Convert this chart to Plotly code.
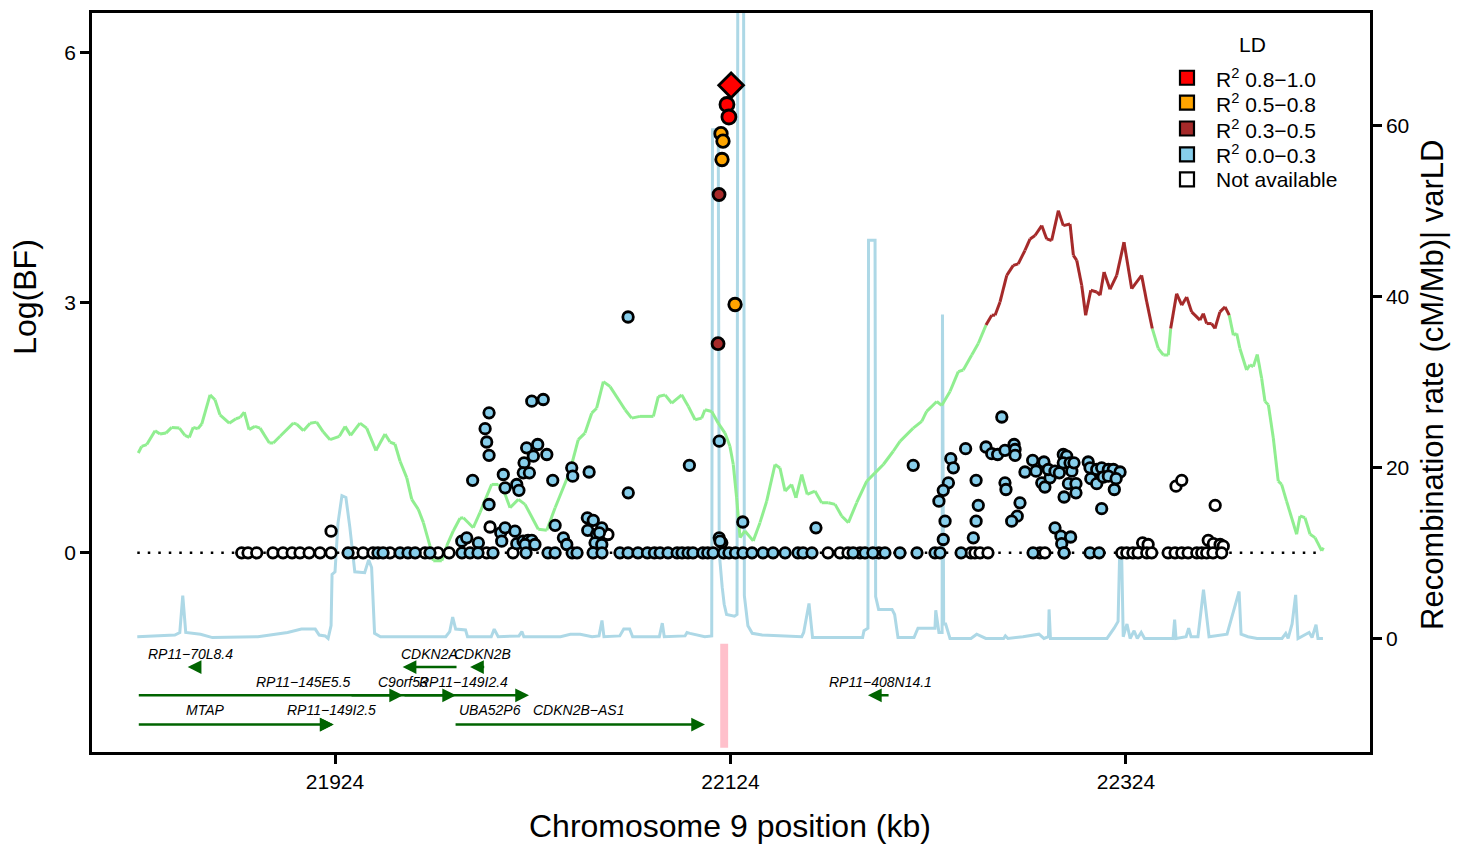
import plotly.graph_objects as go

# ---------------- data ----------------
region_kb = [21824.0, 22424.0]

# SNPs: position (kb) and Log(BF), by LD class with the lead SNP
lead_kb = [22124.3]
lead_bf = [5.61]
red_kb = [22122.2, 22123.2]
red_bf = [5.38, 5.23]
orange_kb = [22119.2, 22120.2, 22119.7, 22126.3]
orange_bf = [5.03, 4.94, 4.72, 2.98]
brown_kb = [22118.2, 22117.7]
brown_bf = [4.30, 2.51]

blue_kb = [21993.6, 21988.1, 21990.6, 22001.9, 21999.9, 22000.7, 22001.9, 22001.9, 21996.5, 22007.8,
           22008.3, 22010.0, 22015.0, 22015.9, 22019.1, 22021.6, 22023.5, 22020.1, 22025.1, 22023.5,
           22029.3, 22020.9, 22026.5, 22024.3, 22031.1, 22019.6, 22019.2, 22022.3, 22009.1, 22010.0,
           22015.9, 22017.0, 22034.1, 22035.3, 22039.5, 22041.2, 22043.7, 22044.2, 22052.5, 22051.6,
           22054.6, 22051.8, 22058.9, 22056.3, 22057.7, 22055.5, 22058.9, 22072.3, 22072.2, 22103.2,
           22118.3, 22118.3, 22119.6, 22118.7, 22130.2, 22167.2, 22216.4, 22235.4, 22236.7, 22234.2,
           22231.6, 22229.4, 22232.5, 22231.6, 22242.9, 22248.2, 22249.3, 22248.2, 22246.8, 22261.2,
           22253.2, 22256.1, 22259.1, 22262.8, 22267.4, 22267.9, 22267.9, 22262.8, 22263.3, 22270.4,
           22269.0, 22266.2, 22272.9, 22276.8, 22278.5, 22282.5, 22281.4, 22283.0, 22285.6, 22284.7,
           22288.1, 22290.3, 22292.3, 22294.0, 22292.3, 22295.7, 22296.6, 22297.7, 22294.9, 22298.7,
           22292.7, 22298.7, 22304.9, 22305.8, 22309.2, 22311.7, 22315.1, 22317.6, 22321.0, 22306.2,
           22309.2, 22312.5, 22315.1, 22319.0, 22318.1, 22311.7, 22288.1, 22291.1, 22296.0, 22291.5,
           22292.7,
           21930.6, 21945.7, 21948.3, 21956.9, 21960.9, 21964.5, 21972.0, 21988.2, 21992.3, 21996.3,
           22003.9, 22020.6, 22031.7, 22035.3, 22043.9, 22046.4, 22054.5, 22059.0, 22068.1, 22072.2,
           22077.2, 22082.0, 22085.5, 22088.4, 22092.4, 22097.0, 22099.5, 22102.5, 22105.0, 22110.0,
           22112.5, 22115.2, 22120.5, 22123.2, 22126.5, 22130.3, 22134.9, 22140.4, 22145.5, 22151.6,
           22158.1, 22160.7, 22165.2, 22186.0, 22192.0, 22196.0, 22202.1, 22209.7, 22218.3, 22227.4,
           22230.0, 22240.6, 22277.0, 22292.7, 22305.8, 22310.4]
blue_bf = [0.87, 0.14, 0.18, 1.68, 1.49, 1.33, 1.17, 0.58, 0.12, 0.24,
           0.14, 0.30, 0.26, 0.11, 0.14, 0.15, 0.15, 0.10, 0.10, 1.82,
           1.84, 1.26, 1.30, 1.16, 1.18, 1.08, 0.96, 0.96, 0.94, 0.78,
           0.82, 0.75, 0.87, 0.33, 0.18, 0.10, 1.02, 0.92, 0.97, 0.42,
           0.39, 0.27, 0.30, 0.22, 0.24, 0.12, 0.10, 0.72, 2.83, 1.05,
           1.34, 0.18, 0.12, 0.14, 0.37, 0.30, 1.05, 1.13, 1.02, 0.84,
           0.75, 0.62, 0.38, 0.16, 1.25, 0.87, 0.57, 0.38, 0.18, 1.63,
           1.27, 1.19, 1.18, 1.23, 1.30, 1.24, 1.17, 0.84, 0.76, 0.60,
           0.44, 0.38, 0.97, 1.11, 0.98, 1.09, 0.84, 0.79, 0.90, 1.00,
           0.98, 0.96, 1.18, 1.16, 1.08, 1.08, 0.98, 1.08, 0.83, 0.83,
           0.67, 0.72, 1.09, 1.02, 1.00, 1.02, 1.00, 1.00, 0.97, 0.89,
           0.83, 0.91, 0.92, 0.89, 0.76, 0.53, 0.30, 0.20, 0.19, 0.11,
           0.00,
           0.0, 0.0, 0.0, 0.0, 0.0, 0.0, 0.0, 0.0, 0.0, 0.0,
           0.0, 0.0, 0.0, 0.0, 0.0, 0.0, 0.0, 0.0, 0.0, 0.0,
           0.0, 0.0, 0.0, 0.0, 0.0, 0.0, 0.0, 0.0, 0.0, 0.0,
           0.0, 0.0, 0.0, 0.0, 0.0, 0.0, 0.0, 0.0, 0.0, 0.0,
           0.0, 0.0, 0.0, 0.0, 0.0, 0.0, 0.0, 0.0, 0.0, 0.0,
           0.0, 0.0, 0.0, 0.0, 0.0, 0.0]

na_kb = [21922.0, 22002.4, 22062.0, 22349.3, 22352.2, 22369.1, 22332.4, 22335.2, 22365.6, 22368.2,
         22371.6, 22373.2,
         21876.8, 21880.0, 21884.4, 21892.6, 21897.7, 21902.3, 21906.3, 21910.9, 21916.4, 21922.0,
         21933.6, 21938.2, 21943.2, 21951.8, 21969.5, 21976.1, 21981.7, 22000.7, 22014.0, 22173.3,
         22179.4, 22183.4, 22189.5, 22199.0, 22245.6, 22247.6, 22250.2, 22254.2, 22280.5, 22283.0,
         22321.8, 22324.4, 22327.5, 22330.1, 22334.5, 22337.0, 22345.3, 22348.8, 22352.2, 22355.4,
         22359.8, 22362.3, 22364.8, 22368.0, 22372.4]
na_bf = [0.26, 0.31, 0.22, 0.80, 0.87, 0.57, 0.12, 0.10, 0.15, 0.11,
         0.10, 0.08,
         0.0, 0.0, 0.0, 0.0, 0.0, 0.0, 0.0, 0.0, 0.0, 0.0,
         0.0, 0.0, 0.0, 0.0, 0.0, 0.0, 0.0, 0.0, 0.0, 0.0,
         0.0, 0.0, 0.0, 0.0, 0.0, 0.0, 0.0, 0.0, 0.0, 0.0,
         0.0, 0.0, 0.0, 0.0, 0.0, 0.0, 0.0, 0.0, 0.0, 0.0,
         0.0, 0.0, 0.0, 0.0, 0.0]

# Recombination rate (cM/Mb)
recomb_kb = [21824.0, 21843.0, 21845.5, 21847.0, 21848.5, 21852.0, 21856.0, 21862.0, 21885.0, 21900.0,
             21907.0, 21914.0, 21916.0, 21919.0, 21920.5, 21922.0, 21922.5, 21924.0, 21925.5, 21927.5,
             21929.5, 21931.5, 21934.0, 21939.0, 21941.0, 21942.5, 21944.0, 21947.0, 21980.0, 21982.0,
             21983.5, 21985.0, 21990.0, 21991.0, 22003.0, 22004.5, 22006.5, 22017.0, 22018.5, 22019.5,
             22038.0, 22043.0, 22048.0, 22054.0, 22057.5, 22059.0, 22060.0, 22068.0, 22070.0, 22073.0,
             22074.5, 22088.0, 22089.5, 22090.5, 22101.0, 22102.0, 22103.5, 22111.0, 22114.5, 22114.9,
             22117.8, 22118.3, 22118.9, 22119.8, 22120.8, 22122.0, 22126.0, 22127.3, 22127.7, 22130.6,
             22131.0, 22132.8, 22135.0, 22140.0, 22160.0, 22161.0, 22163.7, 22165.5, 22190.8, 22191.5,
             22193.5, 22193.8, 22197.1, 22197.4, 22198.9, 22205.7, 22207.0, 22208.7, 22216.8, 22218.8,
             22227.4, 22227.8, 22229.4, 22231.0, 22231.2, 22231.8, 22232.8, 22235.0, 22245.6, 22248.5,
             22253.1, 22262.1, 22263.0, 22264.3, 22271.9, 22280.0, 22282.5, 22284.8, 22285.1, 22285.8,
             22291.9, 22314.4, 22318.0, 22320.0, 22320.8, 22321.8, 22322.6, 22324.5, 22326.1, 22328.1,
             22329.7, 22331.7, 22333.4, 22347.8, 22348.6, 22349.3, 22354.4, 22355.7, 22356.9, 22360.4,
             22363.2, 22366.0, 22375.1, 22381.2, 22382.2, 22385.7, 22390.3, 22402.9, 22404.8, 22406.0,
             22408.0, 22409.8, 22411.0, 22416.6, 22418.1, 22420.1, 22421.1, 22423.6]
recomb_rate = [0.2, 0.4, 0.7, 5.0, 0.7, 0.6, 0.5, 0.1, 0.2, 0.7,
               1.1, 1.1, 0.4, 0.3, 0.0, 1.5, 7.5, 7.8, 13.5, 16.7,
               16.5, 13.0, 7.8, 7.7, 9.2, 8.3, 0.6, 0.2, 0.2, 0.8,
               2.5, 1.1, 1.0, 0.2, 0.2, 1.1, 0.2, 0.3, 0.8, 0.2,
               0.2, 0.5, 0.5, 0.2, 0.3, 2.1, 0.2, 0.3, 1.1, 1.1,
               0.2, 0.2, 1.8, 0.2, 0.3, 0.7, 0.6, 0.2, 0.3, 59.5,
               59.5, 10.0, 8.0, 6.0, 4.0, 2.8, 2.6, 2.8, 80.0, 80.0,
               5.0, 1.5, 0.6, 0.4, 0.2, 0.7, 4.1, 0.1, 0.1, 0.9,
               1.2, 46.6, 46.6, 4.9, 3.4, 3.4, 2.8, 0.1, 0.1, 1.2,
               1.2, 3.3, 0.7, 0.7, 37.9, 1.7, 1.7, 0.0, 0.0, 0.5,
               0.0, 0.0, 0.3, 0.0, 0.2, 0.5, 0.0, 0.2, 3.4, 0.0,
               0.0, 0.0, 1.2, 2.0, 9.9, 9.9, 0.2, 1.7, 0.0, 0.9,
               0.0, 0.7, 0.0, 0.0, 2.2, 0.0, 0.2, 1.2, 0.2, 0.2,
               5.7, 0.2, 0.5, 5.5, 0.5, 0.2, 0.0, 0.0, 0.6, 0.0,
               1.7, 5.1, 0.0, 0.7, 0.1, 1.6, 0.0, 0.0]

# varLD score (on the recombination-rate axis)
varld_kb = [21824.5, 21826.2, 21828.8, 21833.0, 21835.5, 21838.5, 21841.4, 21845.3, 21848.1, 21850.3,
            21852.3, 21854.6, 21856.6, 21860.8, 21863.3, 21865.8, 21870.5, 21873.9, 21876.0, 21878.1,
            21880.5, 21883.5, 21886.1, 21890.8, 21892.8, 21896.2, 21902.9, 21904.6, 21908.0, 21911.4,
            21914.7, 21918.1, 21921.5, 21926.2, 21929.1, 21931.9, 21936.6, 21940.0, 21944.7, 21949.3,
            21951.8, 21954.3, 21956.9, 21960.3, 21962.8, 21966.1, 21968.7, 21972.0, 21973.7, 21978.0,
            21980.5, 21983.8, 21987.2, 21988.9, 21993.9, 21997.3, 21999.0, 22003.2, 22006.6, 22010.0,
            22012.5, 22016.7, 22020.1, 22026.8, 22031.1, 22035.3, 22042.8, 22047.0, 22050.4, 22053.8,
            22056.3, 22059.7, 22063.1, 22070.7, 22074.0, 22078.2, 22085.0, 22087.5, 22090.9, 22094.3,
            22099.3, 22102.7, 22106.1, 22109.4, 22111.1, 22114.5, 22117.8, 22121.2, 22123.7, 22125.4,
            22127.1, 22128.8, 22131.3, 22135.5, 22138.9, 22142.3, 22146.5, 22149.0, 22151.6, 22154.9,
            22157.1, 22160.0, 22162.8, 22166.7, 22170.1, 22173.5, 22176.9, 22180.2, 22183.6, 22187.8,
            22192.9, 22197.1, 22201.3, 22206.3, 22209.7, 22216.4, 22220.7, 22223.2, 22228.3, 22230.8,
            22235.0, 22239.2, 22241.7, 22246.0, 22249.3, 22253.2, 22256.1, 22257.8, 22260.3, 22263.7,
            22267.0, 22269.5, 22272.9, 22275.5, 22278.0, 22281.4, 22283.9, 22286.4, 22289.8, 22292.3,
            22295.7, 22297.4, 22299.1, 22301.6, 22303.6, 22306.2, 22309.2, 22310.9, 22312.9, 22315.9,
            22319.3, 22323.0, 22326.9, 22331.9, 22334.5, 22337.3, 22340.3, 22342.9, 22345.4, 22346.6,
            22349.6, 22352.2, 22354.7, 22357.2, 22361.4, 22363.1, 22364.8, 22367.3, 22369.0, 22371.5,
            22374.1, 22376.2, 22378.3, 22380.0, 22381.6, 22385.0, 22386.7, 22388.4, 22390.4, 22392.6,
            22394.3, 22396.0, 22398.5, 22401.0, 22402.7, 22405.2, 22410.3, 22412.0, 22414.5, 22417.1,
            22419.6, 22423.0, 22423.8]
varld_val = [21.70, 22.48, 22.68, 24.31, 23.91, 24.03, 24.69, 24.61, 23.76, 23.53,
             24.69, 24.54, 25.08, 28.50, 27.92, 26.17, 25.19, 25.71, 25.86, 26.48,
             24.43, 24.81, 24.61, 22.87, 22.87, 23.65, 25.19, 25.08, 24.31, 25.19,
             25.31, 24.15, 23.26, 23.65, 24.81, 23.76, 25.19, 24.61, 21.98, 23.91,
             22.98, 22.75, 20.73, 18.79, 16.27, 15.11, 13.55, 10.83, 9.09, 9.09,
             10.83, 12.58, 14.06, 14.13, 12.96, 14.71, 15.69, 18.02, 18.02, 16.86,
             15.29, 16.27, 15.69, 12.78, 12.66, 15.29, 19.57, 23.26, 24.03, 26.36,
             26.94, 30.05, 29.47, 26.76, 25.78, 25.98, 25.98, 28.31, 28.50, 27.52,
             28.50, 27.14, 25.59, 25.78, 26.76, 26.56, 25.19, 24.03, 22.48, 20.35,
             16.46, 11.80, 12.58, 11.42, 13.55, 16.07, 20.35, 19.95, 17.24, 18.02,
             16.46, 19.18, 16.86, 17.24, 15.88, 15.88, 15.69, 14.33, 13.55, 15.88,
             18.40, 19.37, 20.35, 21.90, 23.06, 24.61, 25.39, 26.56, 27.72, 27.26,
             28.89, 31.22, 31.41, 33.16, 34.51, 36.66, 37.82, 37.82, 39.37, 42.48,
             43.65, 43.83, 45.39, 46.74, 47.14, 48.30, 46.74, 46.56, 50.05, 48.30,
             48.49, 44.81, 44.23, 41.32, 37.82, 40.73, 40.54, 40.15, 42.87, 40.85,
             42.48, 46.36, 40.92, 42.48, 39.37, 36.26, 33.93, 33.16, 33.16, 36.26,
             40.34, 38.99, 39.95, 38.21, 37.24, 38.01, 36.84, 36.84, 36.26, 38.21,
             38.79, 37.82, 35.49, 35.68, 33.93, 31.41, 32.00, 31.80, 33.23, 30.44,
             27.72, 27.34, 23.45, 18.40, 18.02, 16.07, 12.20, 14.33, 14.13, 12.20,
             11.80, 10.25, 10.63]
# stretches where the varLD score is flagged (drawn brown)
varld_flag_kb = [(22253.2, 22337.3), (22346.6, 22376.2)]

# Genes (kb)
gene_name = ["RP11\u221270L8.4", "CDKN2A", "CDKN2B", "RP11\u2212145E5.5", "C9orf53", "RP11\u2212149I2.4",
             "RP11\u2212408N14.1", "MTAP", "RP11\u2212149I2.5", "UBA52P6", "CDKN2B\u2212AS1"]
gene_start = [21849.5, 21958.2, 21992.3, 21824.0, 21931.6, 21958.4, 22193.5, 21824.0, 21920.0, 21999.0, 21984.2]
gene_end = [21852.5, 21986.2, 22000.2, 21958.4, 21985.2, 22022.1, 22204.7, 21923.3, 21923.3, 22001.2, 22111.1]
gene_strand = ["-", "-", "-", "+", "+", "+", "-", "+", "+", "+", "+"]
gene_row = [1, 1, 1, 2, 2, 2, 2, 3, 3, 3, 3]
gene_label_kb = [21851.0, 21972.0, 21998.6, 21908.3, 21958.2, 21989.2, 22199.6, 21858.3, 21922.3, 22002.2, 22047.2]

highlight_kb = [22118.8, 22122.8]

ld_labels = ["R<sup>2</sup> 0.8\u22121.0", "R<sup>2</sup> 0.5\u22120.8", "R<sup>2</sup> 0.3\u22120.5",
             "R<sup>2</sup> 0.0\u22120.3", "Not available"]
ld_colors = ["#FF0000", "#FFA500", "#A52A2A", "#87CEEB", "#FFFFFF"]

x_ticks = [21924, 22124, 22324]
bf_ticks = [0, 3, 6]
rate_ticks = [0, 20, 40, 60]

# ---------------- figure ----------------
FONT = "Liberation Sans, Arial, sans-serif"
fig = go.Figure()

# recombination rate line (base axis y, right side)
fig.add_trace(go.Scatter(x=recomb_kb, y=recomb_rate, mode="lines", yaxis="y",
                         line=dict(color="#ADD8E6", width=3), hoverinfo="skip", showlegend=False))

# varLD line, green with brown flagged stretches
def flagged(v):
    return any(a <= v <= b for a, b in varld_flag_kb)

gx, gy, bx, by = [], [], [], []
for i in range(len(varld_kb) - 1):
    x0, x1 = varld_kb[i], varld_kb[i + 1]
    y0, y1 = varld_val[i], varld_val[i + 1]
    if flagged(x0) and flagged(x1):
        bx += [x0, x1, None]; by += [y0, y1, None]
    else:
        gx += [x0, x1, None]; gy += [y0, y1, None]
fig.add_trace(go.Scatter(x=gx, y=gy, mode="lines", yaxis="y",
                         line=dict(color="#90EE90", width=3), hoverinfo="skip", showlegend=False))
fig.add_trace(go.Scatter(x=bx, y=by, mode="lines", yaxis="y",
                         line=dict(color="#A52A2A", width=3), hoverinfo="skip", showlegend=False))

# zero line for Log(BF)
fig.add_trace(go.Scatter(x=region_kb, y=[0, 0], mode="lines", yaxis="y2",
                         line=dict(color="black", width=2.5, dash="2.5px,8px"),
                         hoverinfo="skip", showlegend=False))

def pts(xs, ys, color, size, symbol="circle"):
    fig.add_trace(go.Scatter(x=xs, y=ys, mode="markers", yaxis="y2",
                             marker=dict(color=color, size=size, symbol=symbol,
                                         line=dict(color="black", width=2.8)),
                             showlegend=False))

pts(na_kb, na_bf, "#FFFFFF", 10.5)
pts(blue_kb, blue_bf, "#87CEEB", 10.5)
pts(brown_kb, brown_bf, "#A52A2A", 12)
pts(orange_kb, orange_bf, "#FFA500", 12.5)
pts(red_kb, red_bf, "#FF0000", 14)
pts(lead_kb, lead_bf, "#FF0000", 19, "diamond")

annotations = []
shapes = []

# genes
row_arrow_y = {1: -1.37, 2: -1.71, 3: -2.06}
row_label_y = {1: -1.21, 2: -1.55, 3: -1.89}
for name, s, e, strand, row, lx in zip(gene_name, gene_start, gene_end, gene_strand, gene_row, gene_label_kb):
    tip, tail = (e, s) if strand == "+" else (s, e)
    annotations.append(dict(x=tip, y=row_arrow_y[row], ax=tail, ay=row_arrow_y[row],
                            xref="x", yref="y2", axref="x", ayref="y2", text="",
                            showarrow=True, arrowhead=2, arrowsize=1.1, arrowwidth=2.5,
                            arrowcolor="#006400", standoff=0, startstandoff=0))
    annotations.append(dict(x=lx, y=row_label_y[row], xref="x", yref="y2", text="<i>%s</i>" % name,
                            showarrow=False, xanchor="center", yanchor="middle",
                            font=dict(family=FONT, size=14, color="black")))

# highlighted lead region in gene track
shapes.append(dict(type="rect", xref="x", yref="y2", x0=highlight_kb[0], x1=highlight_kb[1],
                   y0=-1.09, y1=-2.34, fillcolor="#FFC0CB", line=dict(width=0), layer="below"))

# legend (manual)
annotations.append(dict(x=0.9077, y=0.9569, xref="paper", yref="paper", text="LD", showarrow=False,
                        xanchor="center", yanchor="middle",
                        font=dict(family=FONT, size=21, color="black")))
leg_y = [0.9124, 0.8787, 0.8437, 0.8086, 0.7749]
for lab, col, yy in zip(ld_labels, ld_colors, leg_y):
    shapes.append(dict(type="rect", xref="paper", yref="paper", xsizemode="pixel", ysizemode="pixel",
                       xanchor=0.8568, yanchor=yy, x0=-7, x1=7, y0=-7, y1=7,
                       fillcolor=col, line=dict(color="black", width=2.2)))
    annotations.append(dict(x=0.8779, y=yy, xref="paper", yref="paper", text=lab, showarrow=False,
                            xanchor="left", yanchor="middle",
                            font=dict(family=FONT, size=21, color="black")))

# axis titles
annotations.append(dict(x=-0.0524, y=0.616, xref="paper", yref="paper", text="Log(BF)", textangle=-90,
                        xanchor="center", yanchor="middle",
                        showarrow=False, font=dict(family=FONT, size=32, color="black")))
annotations.append(dict(x=1.0485, y=0.4966, xref="paper", yref="paper",
                        text="Recombination rate (cM/Mb)| varLD", textangle=-90,
                        xanchor="center", yanchor="middle",
                        showarrow=False, font=dict(family=FONT, size=31, color="black")))
annotations.append(dict(x=0.4992, y=-0.0997, xref="paper", yref="paper",
                        text="Chromosome 9 position (kb)", xanchor="center", yanchor="middle",
                        showarrow=False, font=dict(family=FONT, size=32, color="black")))

axis_common = dict(showgrid=False, zeroline=False, showline=True, linecolor="black", linewidth=2.5,
                   ticks="outside", ticklen=9, tickwidth=2.5, tickcolor="black",
                   tickfont=dict(family=FONT, size=21, color="black"))

fig.update_layout(
    width=1464, height=849,
    margin=dict(l=92, r=94, t=10, b=97),
    paper_bgcolor="white", plot_bgcolor="white",
    showlegend=False,
    xaxis=dict(range=[21801.1, 22447.4], tickvals=x_ticks, ticktext=[str(v) for v in x_ticks],
               mirror=True, **axis_common),
    yaxis=dict(range=[-13.28, 73.17], tickvals=rate_ticks, side="right", **axis_common),
    yaxis2=dict(range=[-2.39, 6.478], tickvals=bf_ticks, side="left", overlaying="y", **axis_common),
    annotations=annotations,
    shapes=shapes,
)

fig.write_html("out.html", config={"displayModeBar": False},
               post_script="document.body.style.margin='0';")
